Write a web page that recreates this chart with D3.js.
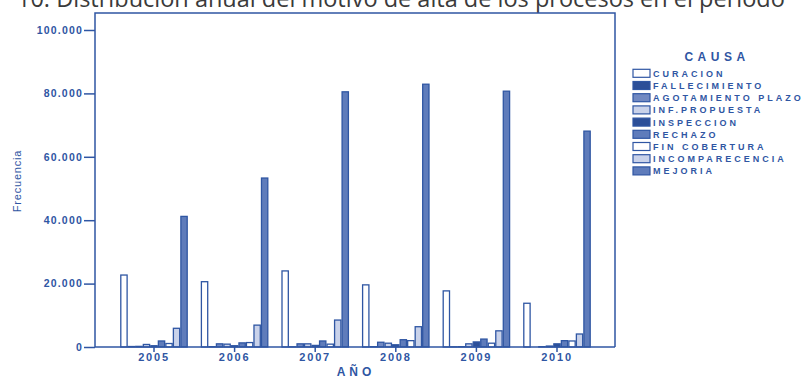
<!DOCTYPE html>
<html><head><meta charset="utf-8">
<script src="https://cdn.jsdelivr.net/npm/d3@7"></script>
<style>
body{margin:0;background:#fff;}
svg{display:block;}
</style></head>
<body>
<svg id="c" width="806" height="378"></svg>
<script>
const years = ["2005","2006","2007","2008","2009","2010"];
const causes = ["CURACION","FALLECIMIENTO","AGOTAMIENTO PLAZO","INF.PROPUESTA","INSPECCION","RECHAZO","FIN COBERTURA","INCOMPARECENCIA","MEJORIA"];
const curacion        = [22700,20600,24000,19600,17700,13800];
const fallecimiento   = [150,100,50,100,50,0];
const agotamiento     = [200,1000,1000,1500,100,100];
const infPropuesta    = [800,900,1000,1200,1000,300];
const inspeccion      = [400,400,500,700,1600,1000];
const rechazo         = [1900,1300,1900,2300,2500,2000];
const finCobertura    = [1100,1400,900,2000,1200,1900];
const incomparecencia = [5900,6900,8500,6400,5100,4100];
const mejoria         = [41200,53300,80500,82900,80700,68100];
const yTicks = [0,20000,40000,60000,80000,100000];
const seriesValues = [curacion,fallecimiento,agotamiento,infPropuesta,inspeccion,rechazo,finCobertura,incomparecencia,mejoria];
const fills = ["#ffffff","#2c4f98","#7189c2","#c9d2ea","#2c4f98","#5f7cbb","#ffffff","#c9d2ea","#5f7cbb"];

const blue = "#2f56a3";
const svg = d3.select("#c");
const locale = d3.formatLocale({decimal:",",thousands:".",grouping:[3],currency:["",""]});
const fmt = locale.format(",d");

// Title (cut at top, as in the reference)
svg.append("text").attr("x",17).attr("y",7)
  .attr("font-family","Open Sans, sans-serif").attr("font-size",23.5)
  .attr("fill","#3a3a3a").text("10. Distribución anual del motivo de alta de los procesos en el periodo");

const pLeft=95, pRight=615, pTop=13, pBottom=347;
const x0 = d3.scaleBand().domain(years).range([113.7,597.3]).padding(0);
const x1 = d3.scaleBand().domain(causes).range([6.5,74.1]).padding(0);
const y = d3.scaleLinear().domain([0,100000]).range([pBottom,30]);

// frame
svg.append("path").attr("d",`M${pLeft},${pBottom}V${pTop}H${pRight}V${pBottom}`)
  .attr("fill","none").attr("stroke",blue).attr("stroke-width",1.5);

// bars
const groups = svg.append("g").selectAll("g").data(years).join("g")
  .attr("transform",d=>`translate(${x0(d)},0)`);
groups.selectAll("rect").data((yr,i)=>causes.map((c,j)=>({c,j,v:seriesValues[j][i]})))
  .join("rect")
  .attr("x",d=>x1(d.c)+0.6).attr("width",x1.bandwidth()-1.2)
  .attr("y",d=>y(d.v)).attr("height",d=>pBottom-y(d.v))
  .attr("fill",d=>fills[d.j]).attr("stroke",blue).attr("stroke-width",d=>d.v>0?1.3:0);

// y axis
const yAx = svg.append("g").attr("transform",`translate(${pLeft},0)`)
  .call(d3.axisLeft(y).tickValues(yTicks).tickFormat(fmt).tickSize(11).tickSizeOuter(0));
yAx.select(".domain").remove();
yAx.selectAll("line").attr("stroke",blue).attr("stroke-width",1.5);
yAx.selectAll("text").attr("fill",blue).attr("font-family","Liberation Sans, Arial, sans-serif")
  .attr("font-weight","bold").attr("font-size",10.5).attr("letter-spacing",1.2).attr("x",-12);

// x axis
const xAx = svg.append("g").attr("transform",`translate(0,${pBottom})`)
  .call(d3.axisBottom(x0).tickSize(5).tickSizeOuter(0));
xAx.select(".domain").attr("stroke",blue).attr("stroke-width",1.5).attr("d",`M${pLeft},0H${pRight}`);
xAx.selectAll("line").attr("stroke",blue).attr("stroke-width",1.5);
xAx.selectAll("text").attr("fill",blue).attr("font-family","Liberation Sans, Arial, sans-serif")
  .attr("font-weight","bold").attr("font-size",11).attr("y",6).attr("letter-spacing",1.8);

// axis titles
svg.append("text").attr("transform","translate(21,181) rotate(-90)").attr("text-anchor","middle")
  .attr("fill",blue).attr("font-family","Liberation Sans, Arial, sans-serif").attr("font-size",11)
  .attr("letter-spacing",0.8).text("Frecuencia");
svg.append("text").attr("x",356).attr("y",376).attr("text-anchor","middle")
  .attr("fill",blue).attr("font-family","Liberation Sans, Arial, sans-serif").attr("font-size",12)
  .attr("font-weight","bold").attr("letter-spacing",4).text("AÑO");

// legend
const lg = svg.append("g");
lg.append("text").attr("x",717).attr("y",61).attr("text-anchor","middle")
  .attr("fill",blue).attr("font-family","Liberation Sans, Arial, sans-serif").attr("font-size",12)
  .attr("font-weight","bold").attr("letter-spacing",4.5).text("CAUSA");
const items = lg.selectAll("g").data(causes).join("g")
  .attr("transform",(d,i)=>`translate(633,${73.3+i*12.2})`);
items.append("rect").attr("x",0).attr("y",-4).attr("width",17).attr("height",8)
  .attr("fill",(d,i)=>fills[i]).attr("stroke",blue).attr("stroke-width",1.2);
items.append("text").attr("x",20).attr("y",3.5)
  .attr("fill",blue).attr("font-family","Liberation Sans, Arial, sans-serif").attr("font-size",9)
  .attr("font-weight","bold").attr("letter-spacing",3).text(d=>d);
</script>
</body></html>
